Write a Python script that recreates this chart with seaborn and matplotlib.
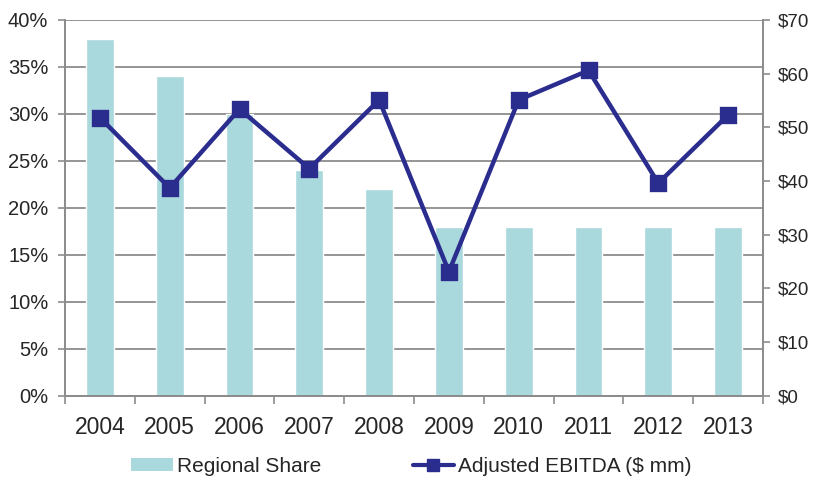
import matplotlib
matplotlib.use("Agg")
import matplotlib.pyplot as plt
import seaborn as sns
import pandas as pd
from matplotlib.patches import Patch
from matplotlib.lines import Line2D
from matplotlib.ticker import FuncFormatter, MultipleLocator, FixedLocator

years = ["2004", "2005", "2006", "2007", "2008", "2009", "2010", "2011", "2012", "2013"]
regional_share = [38, 34, 30, 24, 22, 18, 18, 18, 18, 18]
adjusted_ebitda = [51.8, 38.7, 53.4, 42.3, 55.1, 23.1, 55.1, 60.6, 39.6, 52.3]

bar_color = "#A9D8DD"
line_color = "#2B2D8E"
grid_color = "#8C8C8C"
text_color = "#262626"

sns.set_theme(style="white")
plt.rcParams["font.family"] = ["Liberation Sans", "DejaVu Sans"]

df = pd.DataFrame({"year": years, "share": regional_share, "ebitda": adjusted_ebitda})

fig = plt.figure(figsize=(8.13, 4.84), dpi=100)
ax = fig.add_axes([0.08, 0.1826, 0.8585, 0.7761])

sns.barplot(data=df, x="year", y="share", color=bar_color, width=0.4,
            saturation=1, ax=ax, zorder=2)
ax.set_ylim(0, 40)
ax.set_xlim(-0.5, len(years) - 0.5)
ax.yaxis.set_major_locator(MultipleLocator(5))
ax.yaxis.set_major_formatter(FuncFormatter(lambda v, p: f"{v:.0f}%"))
ax.grid(axis="y", color=grid_color, linewidth=1.3, zorder=0)
ax.set_axisbelow(True)
ax.set_xlabel("")
ax.set_ylabel("")

ax2 = ax.twinx()
sns.pointplot(data=df, x="year", y="ebitda", color=line_color, markers="s",
              markersize=10, linewidth=3.2, ax=ax2, errorbar=None)
ax2.set_ylim(0, 70)
ax2.set_xlim(-0.5, len(years) - 0.5)
ax2.yaxis.set_major_locator(MultipleLocator(10))
ax2.yaxis.set_major_formatter(FuncFormatter(lambda v, p: f"${v:.0f}"))
ax2.set_ylabel("")
ax2.grid(False)

for a in (ax, ax2):
    a.spines["top"].set_visible(False)
    for s in ("left", "right", "bottom"):
        a.spines[s].set_color(grid_color)
        a.spines[s].set_linewidth(1.3)

ax.tick_params(axis="y", which="major", direction="out", length=5, width=1.2,
               color=grid_color, labelsize=14.5, labelcolor=text_color, pad=7, left=True)
ax2.tick_params(axis="y", which="major", direction="out", length=5, width=1.2,
                color=grid_color, labelsize=13.5, labelcolor=text_color, pad=6, right=True)
ax.xaxis.set_minor_locator(FixedLocator([i - 0.5 for i in range(len(years) + 1)]))
ax.tick_params(axis="x", which="major", length=0, labelsize=16.5, labelcolor=text_color, pad=15)
ax.tick_params(axis="x", which="minor", direction="out", length=6, width=1.2,
               color=grid_color, bottom=True)

handles = [
    Patch(facecolor=bar_color, edgecolor="none", label="Regional Share"),
    Line2D([0], [0], color=line_color, linewidth=3, marker="s", markersize=9,
           label="Adjusted EBITDA ($ mm)"),
]
fig.legend(handles=handles, loc="center", bbox_to_anchor=(0.506, 0.037), ncol=2,
           frameon=False, fontsize=15, handlelength=2.0, handletextpad=0.2,
           columnspacing=4.4, labelcolor=text_color, handleheight=0.6)

fig.savefig("out.png", dpi=100)
